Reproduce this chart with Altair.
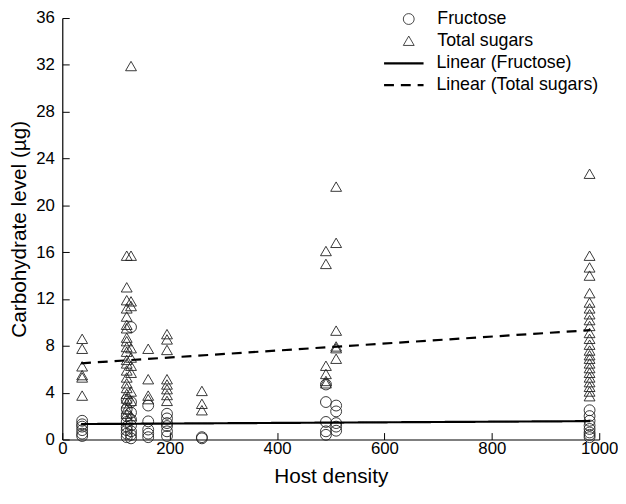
import altair as alt
import pandas as pd

# ---- data ----
density_levels = [37, 120, 128, 160, 195, 260, 491, 510, 982]

fructose_levels = [
    [1.6, 1.3, 1.1, 0.8, 0.5, 0.3],
    [3.4, 2.6, 2.0, 1.5, 1.1, 0.8, 0.5, 0.2],
    [9.6, 3.2, 2.3, 1.7, 1.2, 0.7, 0.4, 0.1],
    [2.9, 1.55, 0.85, 0.5, 0.2],
    [2.2, 1.8, 1.4, 1.15, 0.7, 0.3],
    [0.2, 0.1],
    [4.7, 3.2, 1.5, 0.7, 0.4],
    [2.9, 2.4, 1.4, 1.1, 0.75],
    [2.5, 2.0, 1.6, 1.2, 0.9, 0.6, 0.4, 0.2],
]

total_levels = [
    [8.6, 7.75, 6.25, 5.5, 5.3, 3.75],
    [15.7, 13.0, 11.9, 11.2, 10.5, 9.8, 9.5, 8.7, 8.4, 7.9, 7.5, 6.8, 6.5,
     5.9, 5.3, 4.8, 4.4, 3.9, 3.5, 3.1, 2.6, 2.2],
    [31.9, 15.7, 11.8, 11.4, 7.8, 7.0, 6.3, 5.7, 4.1, 3.3, 2.0],
    [7.75, 5.15, 3.75, 3.45],
    [9.0, 8.55, 7.65, 5.15, 4.7, 4.3, 3.8, 3.3],
    [4.15, 3.05, 2.5],
    [16.1, 15.0, 6.3, 5.6, 5.0, 4.8],
    [21.6, 16.8, 9.3, 7.95, 7.8, 6.9],
    [22.7, 15.7, 14.7, 14.0, 12.5, 11.7, 11.2, 10.7, 10.2, 9.7, 9.1, 8.6,
     8.1, 7.6, 7.2, 6.9, 6.5, 6.1, 5.7, 5.3, 4.9, 4.5, 4.1, 3.7],
]

series_names = ["Fructose", "Total sugars"]
fit_names = ["Linear (Fructose)", "Linear (Total sugars)"]
fit_density = [35, 983]
fructose_fit = [1.32, 1.57]
total_fit = [6.51, 9.34]

x_ticks = [0, 200, 400, 600, 800, 1000]
y_ticks = [0, 4, 8, 12, 16, 20, 24, 28, 32, 36]

# ---- tables ----
rows = []
for d, fl, tl in zip(density_levels, fructose_levels, total_levels):
    for v in fl:
        rows.append({"density": d, "level": v, "series": series_names[0]})
    for v in tl:
        rows.append({"density": d, "level": v, "series": series_names[1]})
pts = pd.DataFrame(rows)

fit_rows = []
for name, vals in zip(fit_names, [fructose_fit, total_fit]):
    for d, v in zip(fit_density, vals):
        fit_rows.append({"density": d, "level": v, "series": name})
fits = pd.DataFrame(fit_rows)

W, H = 544, 427
FONT = "Liberation Sans"

xscale = alt.Scale(domain=[0, 1000], nice=False, zero=False)
yscale = alt.Scale(domain=[0, 36], nice=False)

x_axis = alt.Axis(values=x_ticks, ticks=False, tickSize=0, labelPadding=1,
                  labelFontSize=17, labelColor="black", labelFlush=False,
                  title="Host density", titleFontSize=21, titleFontWeight="normal",
                  titleColor="black", titleY=44, titleBaseline="alphabetic",
                  grid=False, domainColor="black", domainWidth=1.2, format="d")
y_axis = alt.Axis(values=y_ticks, ticks=False, tickSize=0, labelPadding=8,
                  labelFontSize=17, labelColor="black", labelFlush=False,
                  title="Carbohydrate level (µg)", titleFontSize=21,
                  titleFontWeight="normal", titleColor="black", titleX=-37,
                  titleBaseline="alphabetic", grid=False, domainColor="black",
                  domainWidth=1.2, format="d")

points = alt.Chart(pts).mark_point(filled=False, strokeWidth=0.9, color="#222",
                                   size=121, opacity=1).encode(
    x=alt.X("density:Q", scale=xscale, axis=x_axis),
    y=alt.Y("level:Q", scale=yscale, axis=y_axis),
    shape=alt.Shape("series:N",
                    scale=alt.Scale(domain=series_names, range=["circle", "triangle-up"]),
                    legend=alt.Legend(orient="none", legendX=342, legendY=-8, title=None,
                                      labelFontSize=18, labelColor="black", labelLimit=300,
                                      symbolStrokeColor="#333", symbolFillColor="transparent",
                                      symbolStrokeWidth=0.9, symbolSize=121,
                                      labelOffset=20, rowPadding=4, padding=0)),
)

lines = alt.Chart(fits).mark_line(strokeWidth=2.2, color="black").encode(
    x=alt.X("density:Q", scale=xscale, axis=x_axis),
    y=alt.Y("level:Q", scale=yscale, axis=y_axis),
    strokeDash=alt.StrokeDash("series:N",
                              scale=alt.Scale(domain=fit_names, range=[[1, 0], [10, 7]]),
                              legend=alt.Legend(orient="none", legendX=337, legendY=37, title=None,
                                                labelFontSize=18, labelColor="black", labelLimit=300,
                                                symbolType="M-4,0H4", symbolStrokeColor="black",
                                                symbolStrokeWidth=2.2, symbolSize=100,
                                                labelOffset=24, rowPadding=4, padding=0)),
)

main = alt.layer(points, lines)

# inward-pointing ticks: axes on the opposite side shifted onto the plot edges
ghost = alt.Chart(pts).mark_point(opacity=0).encode(
    x=alt.X("density:Q", scale=xscale,
            axis=alt.Axis(orient="top", offset=-H, values=x_ticks, labels=False,
                          domain=False, ticks=True, tickSize=7, tickColor="black",
                          tickWidth=1, title=None, grid=False)),
    y=alt.Y("level:Q", scale=yscale,
            axis=alt.Axis(orient="right", offset=-W, values=y_ticks, labels=False,
                          domain=False, ticks=True, tickSize=7, tickColor="black",
                          tickWidth=1, title=None, grid=False)),
)

chart = alt.layer(main, ghost).resolve_scale(x="independent", y="independent").properties(
    width=W, height=H,
    autosize=alt.AutoSizeParams(type="none"),
    padding={"left": 55, "top": 7, "right": 19, "bottom": 49},
).configure(font=FONT).configure_view(stroke=None)

chart.save("out.html", embed_options={"renderer": "svg", "actions": False})
